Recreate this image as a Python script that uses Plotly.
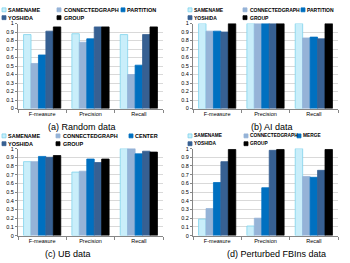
import plotly.graph_objects as go

categories = ["F-measure", "Precision", "Recall"]
y_ticks = [0, 0.1, 0.2, 0.3, 0.4, 0.5, 0.6, 0.7, 0.8, 0.9, 1]
y_tick_labels = ["0", "0.1", "0.2", "0.3", "0.4", "0.5", "0.6", "0.7", "0.8", "0.9", "1"]

titles = ["(a) Random data", "(b) AI data", "(c) UB data", "(d) Perturbed FBIns data"]

series_a = ["SAMENAME", "CONNECTEDGRAPH", "PARTITION", "YOSHIDA", "GROUP"]
values_a = [
    [0.87, 0.88, 0.87],
    [0.53, 0.78, 0.40],
    [0.63, 0.82, 0.51],
    [0.91, 0.96, 0.87],
    [0.96, 0.96, 0.96],
]
series_b = ["SAMENAME", "CONNECTEDGRAPH", "PARTITION", "YOSHIDA", "GROUP"]
values_b = [
    [1.00, 1.00, 1.00],
    [0.91, 1.00, 0.83],
    [0.91, 1.00, 0.84],
    [0.90, 1.00, 0.82],
    [1.00, 1.00, 1.00],
]
series_c = ["SAMENAME", "CONNECTEDGRAPH", "CENTER", "YOSHIDA", "GROUP"]
values_c = [
    [0.85, 0.73, 1.00],
    [0.85, 0.74, 1.00],
    [0.91, 0.88, 0.94],
    [0.90, 0.84, 0.97],
    [0.92, 0.88, 0.96],
]
series_d = ["SAMENAME", "CONNECTEDGRAPH", "MERGE", "YOSHIDA", "GROUP"]
values_d = [
    [0.19, 0.11, 1.00],
    [0.31, 0.20, 0.68],
    [0.61, 0.55, 0.67],
    [0.85, 0.98, 0.75],
    [0.99, 0.99, 0.99],
]

colors = ["#c9eefa", "#95b3d7", "#0070c0", "#376092", "#000000"]
line_colors = ["#7fd3ec", "#95b3d7", "#0070c0", "#376092", "#000000"]

W, H = 350, 263
panels = [
    dict(series=series_a, values=values_a, x0=18, x1=163, y0=21, y1=108, title_x=82, title_y=127,
         sw_x=[2, 57, 121], tx_x=[7, 63, 126], leg_y=[7, 15], fs=5.5),
    dict(series=series_b, values=values_b, x0=193, x1=338, y0=21, y1=108, title_x=272, title_y=127,
         sw_x=[188, 243, 301], tx_x=[193, 249, 306], leg_y=[7, 15], fs=5.0),
    dict(series=series_c, values=values_c, x0=18, x1=163, y0=149, y1=238, title_x=68, title_y=257,
         sw_x=[2, 56, 129], tx_x=[7, 62, 134], leg_y=[136, 144], fs=5.5),
    dict(series=series_d, values=values_d, x0=193, x1=338, y0=149, y1=238, title_x=276, title_y=257,
         sw_x=[188, 244, 297], tx_x=[193, 249, 302], leg_y=[136, 144], fs=4.8),
]

FONT = "Liberation Sans"
fig = go.Figure()
annotations = []
shapes = []
layout_axes = {}
for i, p in enumerate(panels):
    n = i + 1
    xa = "x" if n == 1 else f"x{n}"
    ya = "y" if n == 1 else f"y{n}"
    for j, name in enumerate(p["series"]):
        fig.add_trace(go.Bar(
            x=categories, y=p["values"][j], name=name, xaxis=xa, yaxis=ya,
            marker=dict(color=colors[j], line=dict(color=line_colors[j], width=0.8)),
            showlegend=False,
        ))
    xkey = "xaxis" if n == 1 else f"xaxis{n}"
    ykey = "yaxis" if n == 1 else f"yaxis{n}"
    layout_axes[xkey] = dict(
        domain=[p["x0"] / W, p["x1"] / W], anchor=ya,
        showline=True, linecolor="#868686", linewidth=1,
        ticks="outside", tickson="boundaries", ticklen=3, tickcolor="#868686",
        tickfont=dict(family=FONT, size=5.5, color="#000"),
        showgrid=False, fixedrange=True,
    )
    layout_axes[ykey] = dict(
        domain=[1 - p["y1"] / H, 1 - p["y0"] / H], anchor=xa,
        range=[0, 1], tickvals=y_ticks, ticktext=y_tick_labels,
        showline=True, linecolor="#868686", linewidth=1,
        ticks="outside", ticklen=2, tickcolor="#868686",
        showgrid=True, gridcolor="#d9d9d9", gridwidth=1,
        tickfont=dict(family=FONT, size=5.5, color="#000"),
        zeroline=False, fixedrange=True,
    )
    annotations.append(dict(
        text=titles[i], x=p["title_x"] / W, y=1 - p["title_y"] / H,
        xref="paper", yref="paper", xanchor="center", yanchor="middle",
        showarrow=False, font=dict(family=FONT, size=9, color="#000"),
    ))
    sw = [(p["sw_x"][0], p["leg_y"][0]), (p["sw_x"][1], p["leg_y"][0]), (p["sw_x"][2], p["leg_y"][0]),
          (p["sw_x"][0], p["leg_y"][1]), (p["sw_x"][1], p["leg_y"][1])]
    tx = [(p["tx_x"][0], p["leg_y"][0]), (p["tx_x"][1], p["leg_y"][0]), (p["tx_x"][2], p["leg_y"][0]),
          (p["tx_x"][0], p["leg_y"][1]), (p["tx_x"][1], p["leg_y"][1])]
    for j, name in enumerate(p["series"]):
        sx, sy = sw[j]
        shapes.append(dict(
            type="rect", xref="paper", yref="paper",
            x0=sx / W, x1=(sx + 4) / W, y0=1 - (sy + 2) / H, y1=1 - (sy - 2) / H,
            fillcolor=colors[j], line=dict(color=line_colors[j], width=0.8),
        ))
        tx_, ty_ = tx[j]
        annotations.append(dict(
            text=f"<b>{name}</b>",
            x=tx_ / W, y=1 - ty_ / H, xref="paper", yref="paper",
            xanchor="left", yanchor="middle", showarrow=False, borderpad=0,
            font=dict(family=FONT, size=p["fs"], color="#000"),
        ))

fig.update_layout(
    width=W, height=H, margin=dict(l=0, r=0, t=0, b=0),
    paper_bgcolor="white", plot_bgcolor="white",
    barmode="group", bargap=0.23, bargroupgap=0,
    annotations=annotations, shapes=shapes, showlegend=False,
    **layout_axes,
)
fig.write_html("out.html", config={"displayModeBar": False},
               post_script="document.body.style.margin='0px';")
